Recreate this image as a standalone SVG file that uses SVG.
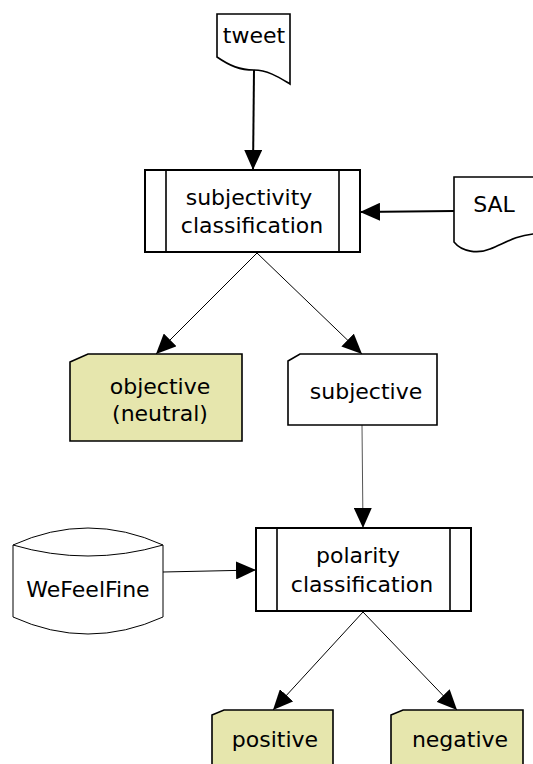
<svg xmlns="http://www.w3.org/2000/svg" width="533" height="764" viewBox="0 0 533 764">
<defs>
<style>
text{font-family:"DejaVu Sans",sans-serif;font-size:22px;fill:#000;text-anchor:middle}
.shape{fill:#fff;stroke:#000;stroke-width:1.6}
.box{fill:#fff;stroke:#000;stroke-width:2}
.bar{fill:none;stroke:#000;stroke-width:1.6}
.note{fill:#e6e6ad;stroke:#000;stroke-width:1.6}
.thin{fill:none;stroke:#000;stroke-width:1}
.gray{fill:none;stroke:#555;stroke-width:1}
.thick{fill:none;stroke:#000;stroke-width:2}
</style>
<marker id="ah" markerUnits="userSpaceOnUse" markerWidth="20" markerHeight="18" refX="20" refY="9" orient="auto" viewBox="0 0 20 18">
<path d="M0,0 L20,9 L0,18 z" fill="#000"/>
</marker>
</defs>
<rect width="533" height="764" fill="#fff"/>
<g id="connectors">
<path class="thick" d="M254,70 L253,170" marker-end="url(#ah)"/>
<path class="thick" d="M454,211 L360,212" marker-end="url(#ah)"/>
<path class="thin" d="M257,253 L156,354" marker-end="url(#ah)"/>
<path class="thin" d="M257,253 L362,354" marker-end="url(#ah)"/>
<path class="gray" d="M362,425 L363,528" marker-end="url(#ah)"/>
<path class="thin" d="M163,572 L256,570" marker-end="url(#ah)"/>
<path class="thin" d="M363,612 L273,710" marker-end="url(#ah)"/>
<path class="thin" d="M363,612 L457,710" marker-end="url(#ah)"/>
</g>
<g id="tweet">
<path class="shape" d="M217,14 H290 V84 C280,78 268,70 254,70 C240,70 230,66 217,57 Z"/>
<text x="254" y="43">tweet</text>
</g>
<g id="subjectivity">
<rect class="box" x="145" y="170" width="215" height="82"/>
<path class="bar" d="M166,170 V252 M339,170 V252"/>
<text x="249" y="205">subjectivity</text>
<text x="252" y="233">classification</text>
</g>
<g id="SAL">
<path class="shape" d="M454,177 H545 V233 L533,234 C515,236 505,243 490,249 C478,254 462,252 454,242 Z"/>
<text x="494" y="212">SAL</text>
</g>
<g id="objective">
<path class="note" d="M70,362 L88,354 H242 V441 H70 Z"/>
<text x="160" y="394">objective</text>
<text x="160" y="421">(neutral)</text>
</g>
<g id="subjective">
<path class="shape" d="M288,361 L300,354 H437 V425 H288 Z"/>
<text x="366" y="399">subjective</text>
</g>
<g id="polarity">
<rect class="box" x="256" y="528" width="215" height="83"/>
<path class="bar" d="M277,528 V611 M450,528 V611"/>
<text x="358" y="563">polarity</text>
<text x="362" y="592">classification</text>
</g>
<g id="WeFeelFine">
<path class="thin" style="fill:#fff" d="M13,545 Q88,511 163,545 V617 Q88,651 13,617 Z"/>
<path class="thin" d="M13,545 Q88,567 163,545"/>
<text x="88" y="597">WeFeelFine</text>
</g>
<g id="positive">
<path class="note" d="M212,715 L224,710 H333 V770 H212 Z"/>
<text x="275" y="747">positive</text>
</g>
<g id="negative">
<path class="note" d="M391,715 L403,710 H523 V770 H391 Z"/>
<text x="460" y="747">negative</text>
</g>
</svg>
